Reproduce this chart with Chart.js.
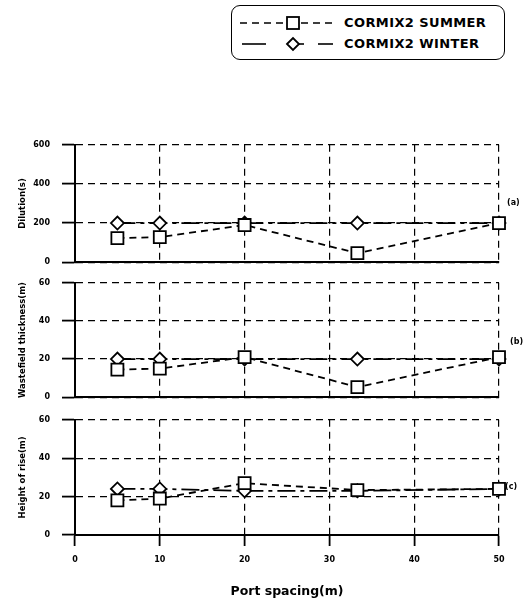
<!DOCTYPE html>
<html>
<head>
<meta charset="utf-8">
<script src="https://cdn.jsdelivr.net/npm/chart.js@4"></script>
<style>
  body { margin: 0; background: #fff; }
  #wrap { position: relative; width: 524px; height: 600px; background: #fff; overflow: hidden; }
  canvas { position: absolute; left: 0; }
  #legend {
    position: absolute; left: 231px; top: 5px; width: 274px; height: 55px;
    border: 1.5px solid #000; border-radius: 9px; box-sizing: border-box;
    font-family: "DejaVu Sans", sans-serif; font-weight: bold; font-size: 13px; letter-spacing: 0.4px;
  }
  .row { position: absolute; left: 0; height: 16px; }
  .row svg { position: absolute; left: 6px; top: 0; }
  .row span { position: absolute; left: 112px; top: 0; line-height: 16px; white-space: nowrap; }
</style>
</head>
<body>
<div id="wrap">
  <div id="legend">
    <div class="row" style="top:9px">
      <svg width="100" height="16">
        <line x1="2" y1="8" x2="48" y2="8" stroke="#000" stroke-width="1.6" stroke-dasharray="7,5"/>
        <rect x="49" y="2" width="12" height="12" fill="#fff" stroke="#000" stroke-width="1.8"/>
        <line x1="63" y1="8" x2="96" y2="8" stroke="#000" stroke-width="1.6" stroke-dasharray="7,5"/>
      </svg>
      <span>CORMIX2 SUMMER</span>
    </div>
    <div class="row" style="top:30px">
      <svg width="100" height="16">
        <line x1="4" y1="8" x2="28" y2="8" stroke="#000" stroke-width="1.6"/>
        <polygon points="49,8 55,2 61,8 55,14" fill="#fff" stroke="#000" stroke-width="1.8"/>
        <line x1="61" y1="8" x2="66" y2="8" stroke="#000" stroke-width="1.6"/>
        <line x1="80" y1="8" x2="95" y2="8" stroke="#000" stroke-width="1.6"/>
      </svg>
      <span>CORMIX2 WINTER</span>
    </div>
  </div>
  <canvas id="c1" width="524" height="151" style="top:128px"></canvas>
  <canvas id="c2" width="524" height="148" style="top:266px"></canvas>
  <canvas id="c3" width="524" height="197" style="top:403px"></canvas>
</div>
<script>
// port spacing (m) shared by all three panels
const portSpacing = [5, 10, 20, 33.3, 50];
const xTicks = [0, 10, 20, 30, 40, 50];

// (a) dilution
const dilutionSummer = [123, 128, 190, 46, 200];
const dilutionWinter = [200, 200, 200, 200, 200];
// (b) wastefield thickness (m)
const thicknessSummer = [14.5, 15, 21, 5.3, 21];
const thicknessWinter = [20, 20, 20, 20, 20];
// (c) height of rise (m)
const riseSummer = [18, 19, 27, 23.4, 24];
const riseWinter = [24, 24, 23, 23, 24];

const FONT = '"DejaVu Sans", sans-serif';

// small "(a)" / "(b)" / "(c)" tag to the right of each panel
const panelTag = {
  id: 'panelTag',
  afterDatasetsDraw(chart, args, opts) {
    if (!opts.text) return;
    const ctx = chart.ctx;
    const y = chart.scales.y.getPixelForValue(opts.value);
    ctx.save();
    ctx.font = 'bold 8px ' + FONT;
    ctx.fillStyle = '#000';
    ctx.textBaseline = 'middle';
    ctx.fillText(opts.text, chart.chartArea.right + opts.dx, y + opts.dy);
    ctx.restore();
  }
};

function toPoints(values) {
  return values.map((v, i) => ({ x: portSpacing[i], y: v }));
}

function makePanel(id, cfg) {
  const ctx = document.getElementById(id).getContext('2d');
  return new Chart(ctx, {
    type: 'line',
    data: {
      datasets: [
        {
          label: 'CORMIX2 WINTER',
          data: toPoints(cfg.winter),
          borderColor: '#000',
          borderWidth: 1.8,
          borderDash: [18, 5, 4, 5],
          pointStyle: 'rectRot',
          pointRadius: 6.5,
          pointBorderWidth: 1.8,
          pointBackgroundColor: '#fff',
          pointBorderColor: '#000',
          fill: false,
          clip: false,
          order: 2
        },
        {
          label: 'CORMIX2 SUMMER',
          data: toPoints(cfg.summer),
          borderColor: '#000',
          borderWidth: 1.8,
          borderDash: [7, 5],
          pointStyle: 'rect',
          pointRadius: 8.5,
          pointBorderWidth: 1.8,
          pointBackgroundColor: '#fff',
          pointBorderColor: '#000',
          fill: false,
          clip: false,
          order: 1
        }
      ]
    },
    options: {
      responsive: false,
      animation: false,
      events: [],
      layout: { padding: { top: 10, right: 25, left: 0, bottom: 0 } },
      plugins: {
        legend: { display: false },
        tooltip: { enabled: false },
        panelTag: cfg.tag
      },
      scales: {
        x: {
          type: 'linear',
          min: 0,
          max: 50,
          afterBuildTicks: scale => { scale.ticks = xTicks.map(v => ({ value: v })); },
          afterFit: scale => { scale.height = cfg.xHeight; },
          ticks: {
            display: cfg.showX,
            color: '#000',
            padding: 9,
            font: { family: FONT, weight: 'bold', size: 8 }
          },
          grid: {
            color: '#000',
            lineWidth: 1.2,
            drawTicks: cfg.showX,
            tickLength: 11,
            tickWidth: 1.8,
            tickColor: '#000'
          },
          border: { display: true, color: '#000', width: 2, dash: [7, 5] },
          title: {
            display: cfg.showX,
            text: 'Port spacing(m)',
            color: '#000',
            font: { family: FONT, weight: 'bold', size: 12.5 },
            padding: { top: 0, bottom: 1 }
          }
        },
        y: {
          min: 0,
          max: cfg.max,
          afterBuildTicks: scale => { scale.ticks = cfg.ticks.map(v => ({ value: v })); },
          afterFit: scale => { scale.width = 75; },
          ticks: {
            color: '#000',
            padding: 12,
            font: { family: FONT, weight: 'bold', size: 8 }
          },
          grid: {
            color: '#000',
            lineWidth: 1.2,
            drawTicks: true,
            tickLength: 13,
            tickWidth: 1.8,
            tickColor: '#000'
          },
          border: { display: true, color: '#000', width: 2, dash: [7, 5] },
          title: {
            display: true,
            text: cfg.title,
            color: '#000',
            font: { family: FONT, weight: 'bold', size: 8.5 },
            padding: { top: 18, bottom: 0 }
          }
        }
      }
    },
    plugins: [panelTag]
  });
}

makePanel('c1', {
  summer: dilutionSummer, winter: dilutionWinter,
  max: 600, ticks: [0, 200, 400, 600], title: 'Dilution(s)',
  xHeight: 9, showX: false,
  tag: { text: '(a)', value: 200, dx: 8, dy: -20 }
});
makePanel('c2', {
  summer: thicknessSummer, winter: thicknessWinter,
  max: 60, ticks: [0, 20, 40, 60], title: 'Wastefield thickness(m)',
  xHeight: 9, showX: false,
  tag: { text: '(b)', value: 20, dx: 11, dy: -17 }
});
makePanel('c3', {
  summer: riseSummer, winter: riseWinter,
  max: 60, ticks: [0, 20, 40, 60], title: 'Height of rise(m)',
  xHeight: 65, showX: true,
  tag: { text: '(c)', value: 24, dx: 6, dy: -2 }
});
</script>
</body>
</html>
